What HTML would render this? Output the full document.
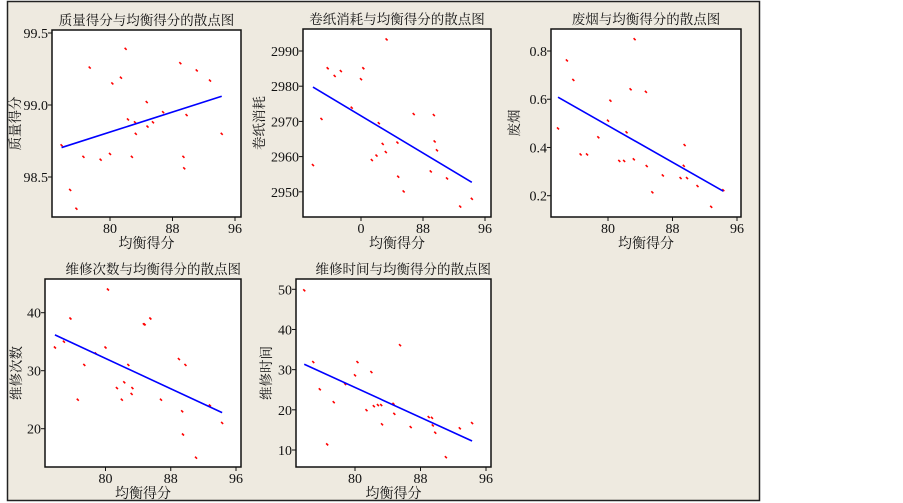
<!DOCTYPE html>
<html><head><meta charset="utf-8">
<style>
html,body{margin:0;padding:0;background:#fff;}
svg{display:block;}
text{font-family:"Liberation Serif","Noto Serif CJK SC",serif;fill:#111;}
</style></head>
<body>
<svg id="chart" width="903" height="503" viewBox="0 0 903 503">
<rect x="7.5" y="1.5" width="752" height="499" fill="#eeeae0" stroke="#222" stroke-width="1.5"/>
</svg>
<script>
// shared x data (均衡得分)
const balanceScores = [73.8,74.9,75.7,76.6,77.4,78.8,80.0,80.3,81.4,82.0,82.3,82.8,83.2,83.3,84.7,84.8,85.5,86.8,89.0,89.4,89.5,89.8,91.1,92.8,94.3];
const qualityScores = [98.72,98.41,98.28,98.64,99.26,98.62,98.66,99.15,99.19,99.39,98.90,98.64,98.88,98.80,99.02,98.85,98.88,98.95,99.29,98.64,98.56,98.93,99.24,99.17,98.80];
const paperUse = [2957.6,2970.7,2985.1,2982.9,2984.3,2973.9,2982.0,2985.1,2959.0,2960.3,2969.5,2963.6,2961.3,2993.3,2964.0,2954.3,2950.1,2972.1,2955.8,2971.8,2964.3,2961.8,2953.8,2945.8,2948.0];
const wasteSmoke = [0.479,0.761,0.680,0.371,0.371,0.442,0.511,0.594,0.344,0.344,0.463,0.641,0.351,0.849,0.631,0.323,0.214,0.284,0.273,0.324,0.410,0.273,0.240,0.154,0.223];
const repairCounts = [34,35,39,25,31,33,34,44,27,25,28,31,26,27,38,38,39,25,32,23,19,31,15,24,21];
const repairTimes = [49.75,31.9,25.1,11.4,21.9,26.4,28.6,31.9,19.9,29.4,20.9,21.2,21.2,16.4,21.5,19.0,36.1,15.7,18.2,18.0,16.1,14.3,8.2,15.4,16.7];
const xTickValues = [80,88,96];
const xTickLabelsA = ['80','88','96'];
const xTickLabelsB = ['0','88','96'];
const yTicks1 = [98.5,99.0,99.5];
const yTicks2 = [2950,2960,2970,2980,2990];
const yTicks3 = [0.2,0.4,0.6,0.8];
const yTicks4 = [20,30,40];
const yTicks5 = [10,20,30,40,50];

const panels = [
 {id:'quality',title:'质量得分与均衡得分的散点图',yl:'质量得分',box:[52,30,241,217],xm:[80,110,96,235],ym:[99.5,33,98.5,177],ys:qualityScores,yt:yTicks1,fmt:v=>v.toFixed(1),xl:xTickLabelsA,tx:'center',ylx:17},
 {id:'paper',title:'卷纸消耗与均衡得分的散点图',yl:'卷纸消耗',box:[303,29,491,217],xm:[80,361,96,485],ym:[2990,51,2950,191.8],ys:paperUse,yt:yTicks2,fmt:v=>String(v),xl:xTickLabelsB,tx:'center',ylx:261},
 {id:'waste',title:'废烟与均衡得分的散点图',yl:'废烟',box:[551,29,741,217],xm:[80,608,96,737],ym:[0.8,51,0.2,195.7],ys:wasteSmoke,yt:yTicks3,fmt:v=>v.toFixed(1),xl:xTickLabelsA,tx:'center',ylx:516},
 {id:'repair-count',title:'维修次数与均衡得分的散点图',yl:'维修次数',box:[45,279,241,467],xm:[80,105.5,96,236],ym:[40,312.7,20,428.7],ys:repairCounts,yt:yTicks4,fmt:v=>String(v),xl:xTickLabelsA,tx:'right',ylx:18},
 {id:'repair-time',title:'维修时间与均衡得分的散点图',yl:'维修时间',box:[296,279,491,467],xm:[80,355,96,486],ym:[50,289.3,10,450],ys:repairTimes,yt:yTicks5,fmt:v=>String(v),xl:xTickLabelsA,tx:'right',ylx:268}
];
const svg = document.getElementById('chart');
const NS='http://www.w3.org/2000/svg';
function mk(tag,attrs,parent){const e=document.createElementNS(NS,tag);for(const k in attrs)e.setAttribute(k,attrs[k]);(parent||svg).appendChild(e);return e;}

panels.forEach(p=>{
  const [x0,y0,x1,y1]=p.box;
  const sx=v=>p.xm[1]+(v-p.xm[0])*(p.xm[3]-p.xm[1])/(p.xm[2]-p.xm[0]);
  const sy=v=>p.ym[1]+(v-p.ym[0])*(p.ym[3]-p.ym[1])/(p.ym[2]-p.ym[0]);
  const g=mk('g',{});
  
  
  const r=mk('rect',{x:x0,y:y0,width:x1-x0,height:y1-y0,fill:'#fff',stroke:'#111','stroke-width':1.5},g);
  
  
  const cx=(x0+x1)/2;
  const t=mk('text',{x:p.tx==='center'?cx:x1,y:y0-5,'font-size':13.5,'text-anchor':p.tx==='center'?'middle':'end'},g);
  t.textContent=p.title;
  
  
  xTickValues.forEach((v,i)=>{
    const X=sx(v);
    const tk=mk('line',{x1:X,y1:y1,x2:X,y2:y1+4,stroke:'#111','stroke-width':1},g);
    
    
    const tl=mk('text',{x:X,y:y1+16,'font-size':14,'text-anchor':'middle'},g);
    tl.textContent=p.xl[i];
    
    
  });
  const xt=mk('text',{x:cx,y:y1+31,'font-size':14,'text-anchor':'middle'},g);
  xt.textContent='均衡得分';
  
  
  p.yt.forEach(v=>{
    const Y=sy(v);
    const tk=mk('line',{x1:x0-4,y1:Y,x2:x0,y2:Y,stroke:'#111','stroke-width':1},g);
    
    
    const tl=mk('text',{x:x0-4,y:Y+5,'font-size':14,'text-anchor':'end'},g);
    tl.textContent=p.fmt(v);
    
    
  });
  const yc=(y0+y1)/2;
  const yt=mk('text',{x:p.ylx,y:yc,'font-size':13.5,'text-anchor':'middle',transform:`rotate(-90 ${p.ylx} ${yc})`,'dominant-baseline':'middle'},g);
  yt.textContent=p.yl;
  
  
  balanceScores.forEach((xv,i)=>{
    const X=sx(xv),Y=sy(p.ys[i]);
    const d=mk('line',{x1:X-1,y1:Y-1,x2:X+1,y2:Y+1,stroke:'#f00','stroke-width':1.6},g);
    
    
  });
  const n=balanceScores.length;
  const mx=balanceScores.reduce((a,b)=>a+b,0)/n, my=p.ys.reduce((a,b)=>a+b,0)/n;
  let sxy=0,sxx=0;
  balanceScores.forEach((xv,i)=>{sxy+=(xv-mx)*(p.ys[i]-my);sxx+=(xv-mx)*(xv-mx);});
  const b=sxy/sxx,a=my-b*mx;
  const xa=Math.min(...balanceScores),xb=Math.max(...balanceScores);
  const ln=mk('line',{x1:sx(xa),y1:sy(a+b*xa),x2:sx(xb),y2:sy(a+b*xb),stroke:'#00f','stroke-width':1.6},g);
  
  
});
</script>
</body></html>
